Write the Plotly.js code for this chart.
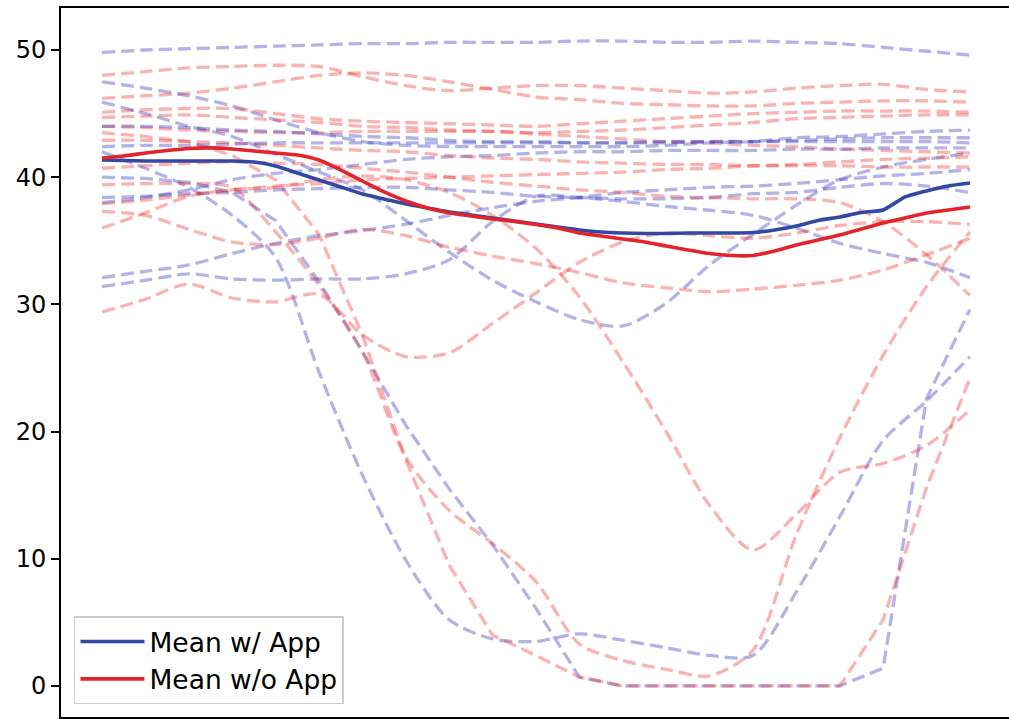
<!DOCTYPE html>
<html><head><meta charset="utf-8">
<script src="https://cdn.plot.ly/plotly-3.0.1.min.js"></script>
<style>html,body{margin:0;padding:0;background:#fff;overflow:hidden}</style>
</head><body><div id="chart" style="width:1009px;height:720px"></div>
<script>
// time grid (percent of session)
const time = [0,5,10,15,20,25,30,35,40,45,50,55,60,65,70,75,80,85,90,95,100];
const timeFine = [0,2.5,5,7.5,10,12.5,15,17.5,20,22.5,25,27.5,30,32.5,35,37.5,40,42.5,45,47.5,50,52.5,55,57.5,60,62.5,65,67.5,70,72.5,75,77.5,80,82.5,85,87.5,90,92.5,95,97.5,100];

// individual runs WITH the app (blue dashed)
const app1  = [49.8,50.0,50.1,50.2,50.3,50.4,50.5,50.5,50.6,50.6,50.6,50.7,50.7,50.6,50.6,50.7,50.6,50.5,50.2,49.9,49.6];
const app2  = [47.5,47.0,46.4,45.6,44.5,43.5,42.8,42.5,42.4,42.4,42.4,42.4,42.4,42.5,42.7,42.8,43.1,43.2,43.4,43.6,43.7];
const app3  = [45.9,45.0,44.0,43.2,41.8,40.4,39.0,36.6,34.1,31.9,30.2,28.8,28.3,30.1,33.1,35.5,37.8,39.8,40.8,41.4,41.9];
const app4  = [42.0,40.7,39.2,37.0,33.7,24.7,16.6,9.9,5.2,3.7,3.5,4.1,3.6,3.0,2.4,2.4,7.4,13.3,19.3,22.4,25.9];
const app5  = [40.0,39.9,39.6,38.8,36.6,31.8,26.3,20.5,15.5,11.1,6.1,0.7,0,0,0,0,0,0,1.4,22.6,29.6];
const app6  = [38.0,38.4,39.0,39.8,40.3,40.6,41.0,41.4,41.6,41.7,41.9,42.0,42.0,42.1,42.1,42.1,42.2,42.2,42.3,42.3,42.3];
const app7  = [38.4,38.5,38.7,38.8,39.0,39.1,39.2,39.2,39.0,38.8,38.5,38.4,38.3,38.3,38.4,38.7,38.8,39.2,39.5,39.3,38.8];
const app8  = [42.4,42.5,42.5,42.6,42.7,42.7,42.7,42.7,42.7,42.7,42.7,42.7,42.7,42.8,42.8,42.8,42.9,43.0,43.1,43.1,43.1];
const app9  = [32.1,32.6,33.1,34.0,34.8,35.4,35.8,36.3,37.0,37.6,38.1,38.4,38.8,39.0,39.2,39.3,39.5,39.8,40.1,40.3,40.6];
const app10 = [31.4,31.9,32.4,32.0,31.9,32.0,32.0,32.4,33.5,36.5,38.5,38.4,38.1,37.7,37.4,37.0,36.0,34.8,34.0,33.3,32.1];
const app11 = [44.0,44.0,43.9,43.7,43.6,43.4,43.2,43.1,42.9,42.8,42.8,42.7,42.7,42.7,42.8,42.8,42.8,42.8,42.8,42.8,42.7];

// individual runs WITHOUT the app (red dashed)
const noApp1  = [48.0,48.3,48.6,48.7,48.8,48.7,47.9,47.2,46.8,47.0,47.2,47.2,47.0,46.8,46.6,46.7,47.0,47.2,47.3,46.9,46.7];
const noApp2  = [46.2,46.4,46.6,47.0,47.5,48.0,48.2,48.0,47.5,46.9,46.3,46.1,45.8,45.7,45.6,45.6,45.8,45.9,46.0,46.0,45.9];
const noApp3  = [45.1,45.3,45.4,45.4,45.0,44.6,44.4,44.3,44.2,44.1,44.0,44.2,44.4,44.6,44.8,45.0,45.1,45.2,45.2,45.2,45.1];
const noApp4  = [44.7,44.8,44.9,44.7,44.5,44.3,44.0,43.9,43.7,43.6,43.5,43.6,43.7,43.9,44.1,44.3,44.6,44.7,44.8,44.9,44.9];
const noApp5  = [44.0,43.9,43.7,43.6,43.5,43.5,43.6,43.6,43.6,43.6,43.4,43.2,43.0,42.8,42.7,42.5,42.4,42.2,42.1,42.0,41.9];
const noApp6  = [43.5,43.2,42.8,41.7,39.8,35.5,27.6,17.8,9.5,4.0,2.4,0.7,0,0,0,0,0,0,5.2,15.6,24.2];
const noApp7  = [42.9,42.9,42.8,42.7,42.5,42.3,42.1,42.0,41.7,41.5,41.4,41.2,41.1,41.0,41.0,40.9,40.9,40.9,40.8,40.8,40.8];
const noApp8  = [37.9,38.2,38.6,39.0,39.3,39.5,39.8,39.9,40.0,40.1,40.2,40.3,40.4,40.6,40.7,40.9,41.0,41.2,41.4,41.5,41.6];
const noApp9  = [36.0,37.2,38.5,39.0,39.2,39.8,40.1,39.8,38.8,37.0,34.4,30.6,25.5,20.0,14.2,10.7,13.5,16.8,17.5,18.9,21.7];
const noApp10 = [29.4,30.4,31.6,30.5,30.2,30.8,27.6,25.9,26.2,28.5,30.9,33.3,34.9,35.6,35.4,35.2,35.6,36.2,36.5,36.5,36.3];
const noApp11 = [37.3,37.0,35.9,34.9,34.7,35.2,35.9,35.4,34.5,33.8,33.2,32.5,31.7,31.3,31.0,31.2,31.5,31.9,32.7,33.9,35.2];
const noApp12 = [39.4,39.5,39.5,39.2,35.7,31.5,26.3,18.0,13.8,11.2,8.2,3.3,2.0,1.3,0.8,2.8,11.9,19.5,26.0,31.4,35.7];
const noApp13 = [40.7,40.9,41.1,41.2,41.1,41.0,40.7,40.4,40.0,39.6,39.3,39.0,38.8,38.5,38.4,38.3,38.3,38.0,36.5,33.9,30.7];

// means
const meanApp   = [41.35,41.31,41.27,41.27,41.27,41.27,41.27,41.19,40.88,40.33,39.78,39.23,38.68,38.29,37.89,37.58,37.26,37.03,36.79,36.56,36.32,36.08,35.85,35.69,35.61,35.57,35.57,35.61,35.61,35.61,35.65,35.85,36.16,36.60,36.87,37.22,37.42,38.44,38.92,39.31,39.54];
const meanNoApp = [41.51,41.67,41.90,42.10,42.26,42.30,42.22,42.06,41.90,41.75,41.35,40.57,39.70,38.84,38.13,37.58,37.19,36.95,36.71,36.52,36.28,36.01,35.61,35.38,35.14,34.91,34.59,34.28,34.00,33.84,33.84,34.20,34.67,35.06,35.46,35.93,36.40,36.79,37.19,37.42,37.66];

const legendLabels = ["Mean w/ App", "Mean w/o App"];
const yTicks = [0,10,20,30,40,50];

const appRuns = [app1,app2,app3,app4,app5,app6,app7,app8,app9,app10,app11];
const noAppRuns = [noApp1,noApp2,noApp3,noApp4,noApp5,noApp6,noApp7,noApp8,noApp9,noApp10,noApp11,noApp12,noApp13];
const sharpRuns = [app5, noApp6];

function runTrace(vals, color){
  const sharp = sharpRuns.includes(vals);
  return {x: time, y: vals, mode:'lines', showlegend:false, hoverinfo:'skip',
    line:{color: color, width:3.3, dash:'13px,6px', shape: sharp ? 'linear' : 'spline', smoothing: 0.8}};
}
const traces = [];
const n = Math.max(appRuns.length, noAppRuns.length);
for (let i=0;i<n;i++){
  if (i < noAppRuns.length) traces.push(runTrace(noAppRuns[i], 'rgba(238,45,45,0.36)'));
  if (i < appRuns.length) traces.push(runTrace(appRuns[i], 'rgba(45,45,190,0.36)'));
}
traces.push({x: timeFine, y: meanApp, mode:'lines', name: legendLabels[0],
  line:{color:'#3447a5', width:3.6, shape:'spline', smoothing:0.5}});
traces.push({x: timeFine, y: meanNoApp, mode:'lines', name: legendLabels[1],
  line:{color:'#e4232a', width:3.6, shape:'spline', smoothing:0.5}});

const layout = {
  width:1009, height:720,
  margin:{l:61, r:0, t:8, b:3},
  paper_bgcolor:'#fff', plot_bgcolor:'#fff',
  font:{family:'DejaVu Sans', color:'#000'},
  showlegend:true,
  legend:{x:0.0137, y:0.018, xanchor:'left', yanchor:'bottom',
    bgcolor:'rgba(255,255,255,0.85)', bordercolor:'#cccccc', borderwidth:1.5,
    font:{family:'DejaVu Sans', size:26.5, color:'#000'}, itemwidth:64, tracegroupgap:0},
  xaxis:{range:[-4.72,104.5], showgrid:false, zeroline:false, showticklabels:false,
    ticks:'', showline:true, mirror:true, linecolor:'#000', linewidth:2},
  yaxis:{range:[-2.44,53.3], showgrid:false, zeroline:false, tickvals:yTicks,
    ticktext: yTicks.map(String), ticks:'outside', ticklen:8, tickwidth:2, tickcolor:'#000',
    showline:true, linecolor:'#000', linewidth:2,
    tickfont:{family:'DejaVu Sans', size:24, color:'#000'}}
};
Plotly.newPlot('chart', traces, layout, {displayModeBar:false, staticPlot:true});
</script></body></html>
